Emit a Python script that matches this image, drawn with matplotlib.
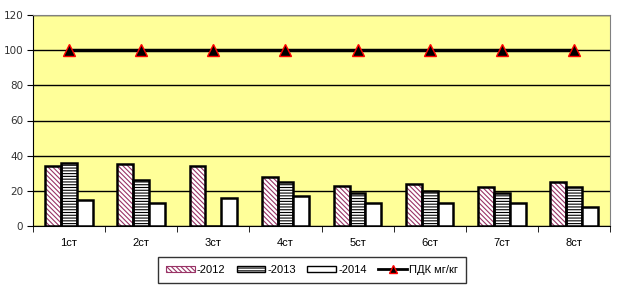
import numpy as np
import matplotlib.pyplot as plt
from matplotlib.patches import Patch
from matplotlib.lines import Line2D

categories = ["1ст", "2ст", "3ст", "4ст", "5ст", "6ст", "7ст", "8ст"]
y2012 = [34, 35, 34, 28, 23, 24, 22, 25]
y2013 = [36, 26, 0, 25, 19, 20, 19, 22]
y2014 = [15, 13, 16, 17, 13, 13, 13, 11]
pdk = [100, 100, 100, 100, 100, 100, 100, 100]

plt.rcParams["hatch.linewidth"] = 0.8
plt.rcParams["font.family"] = ["Liberation Sans", "DejaVu Sans"]

fig = plt.figure(figsize=(6.2, 3.0), dpi=100)
ax = fig.add_axes([33 / 620, 1 - 226 / 300, 577 / 620, 211 / 300])
ax.set_facecolor("#FFFF99")

x = np.arange(len(categories))
w = 0.22
h12 = "\\" * 7
h13 = "-" * 6

# 2012: maroon hatch + black outline
ax.bar(x - w, y2012, w, color="white", edgecolor="#993366", hatch=h12, lw=0, zorder=3)
ax.bar(x - w, y2012, w, fill=False, edgecolor="black", lw=1.8, zorder=4)
# 2013: horizontal lines
ax.bar(x, y2013, w, color="white", edgecolor="black", hatch=h13, lw=0, zorder=3)
ax.bar(x, y2013, w, fill=False, edgecolor="black", lw=1.8, zorder=4)
# 2014
ax.bar(x + w, y2014, w, color="white", edgecolor="black", lw=1.8, zorder=4)

ax.plot(x, pdk, color="black", lw=2.5, marker="^", markersize=9,
        markerfacecolor="black", markeredgecolor="red", markeredgewidth=1, zorder=5)

ax.set_xlim(-0.5, len(categories) - 0.5)
ax.set_ylim(0, 120)
ax.set_yticks(range(0, 121, 20))
ax.yaxis.grid(True, color="black", lw=1)
ax.set_axisbelow(True)

ax.set_xticks(x)
ax.set_xticklabels(categories, fontsize=8)
ax.set_xticks(np.arange(-0.5, len(categories)), minor=True)
ax.tick_params(axis="x", which="major", length=0, pad=9)
ax.tick_params(axis="x", which="minor", length=4, direction="out", color="black")
ax.tick_params(axis="y", length=4, pad=3)
for lab in ax.get_yticklabels():
    lab.set_fontfamily("DejaVu Sans")
    lab.set_fontsize(7.5)
    lab.set_color("#333333")

for s in ["top", "right"]:
    ax.spines[s].set_color("gray")
ax.spines["left"].set_color("black")
ax.spines["bottom"].set_color("black")

h2012 = (Patch(facecolor="white", edgecolor="#993366", hatch=h12, lw=0),
         Patch(fill=False, edgecolor="#993366", lw=0.8))
h2013 = (Patch(facecolor="white", edgecolor="black", hatch=h13, lw=0),
         Patch(fill=False, edgecolor="black", lw=1))
h2014 = Patch(facecolor="white", edgecolor="black", lw=1)
hpdk = Line2D([], [], color="black", lw=2, marker="^", markersize=6,
              markerfacecolor="black", markeredgecolor="red")

fig.legend([h2012, h2013, h2014, hpdk], ["-2012", "-2013", "-2014", "ПДК мг/кг"],
           loc="center", bbox_to_anchor=(312 / 620, 1 - 270 / 300), ncol=4,
           fontsize=8, frameon=True, fancybox=False, edgecolor="black",
           handlelength=2.6, handleheight=0.5, handletextpad=0.2, columnspacing=1.0,
           borderpad=0.7)

fig.savefig("out.png", dpi=100)
